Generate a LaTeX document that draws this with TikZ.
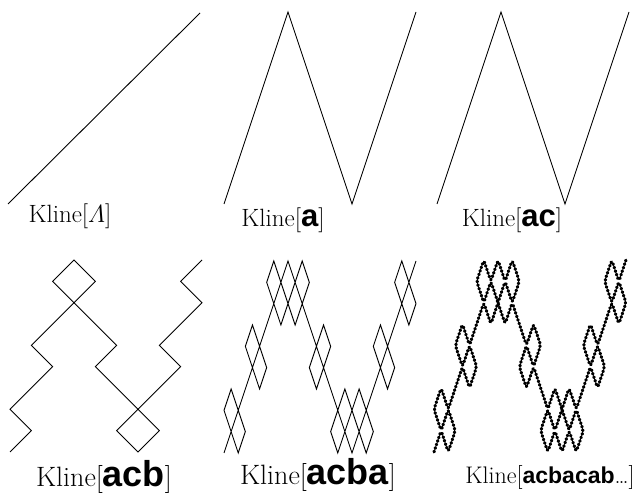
\documentclass[tikz,border=0pt]{standalone}
\usepackage{tikz}
\usepackage{amsmath}
\usepackage{fontspec}
\newfontfamily\wordfont{Liberation Sans}

\tikzset{
  kline/.style={line width=0.9pt},
  beads/.style={line width=3.1pt, line cap=round, line join=round,
    rounded corners=3pt, dash pattern=on 1pt off 2.7pt},
  klabel/.style={inner sep=0pt, anchor=base, font=\fontsize{25}{29}\selectfont},
  biglabel/.style={klabel, font=\fontsize{28}{32}\selectfont},
}
\newcommand{\wrd}[2][31]{{\wordfont\bfseries\fontsize{#1}{#1}\selectfont #2}}
% unit steps of Kline[acb]
\def\acbsteps{1/1,-1/1,1/1,1/1,-1/1,1/1,1/1,1/1,-1/1,
  -1/-1,1/-1,1/-1,1/-1,-1/-1,1/-1,1/-1,1/-1,-1/-1,
  -1/1,1/1,1/1,1/1,-1/1,1/1,1/1,-1/1,1/1}

\begin{document}
\begin{tikzpicture}[x=1pt,y=1pt]
  \useasboundingbox (0,0) rectangle (635,497);

  % top row
  \draw[kline] (8,293) -- ++(192,191);
  \draw[kline] (224,293) \foreach \s in {1,-1,1} { -- ++(64,192*\s) };
  \draw[kline] (437,293) \foreach \s in {1,-1,1} { -- ++(64,192*\s) };

  % bottom row
  \begin{scope}[shift={(10,45)}, x=21.333pt, y=21.333pt]
    \draw[kline] (0,0) \foreach \sx/\sy in \acbsteps { -- ++(\sx,\sy) };
  \end{scope}
  \begin{scope}[shift={(224,44)}, x=21.333pt, y=21.333pt]
    \draw[kline] (0,0) \foreach \sx/\sy in \acbsteps {
      -- ++({\sx/3},\sy) -- ++({\sx/3},{-(\sy)}) -- ++({\sx/3},\sy) };
  \end{scope}
  \begin{scope}[shift={(434,45)}, x=21.333pt, y=21.333pt]
    \draw[beads] (0,0) \foreach \sx/\sy in \acbsteps {
      -- ++({\sx/3},\sy) -- ++({\sx/3},{-(\sy)}) -- ++({\sx/3},\sy) };
  \end{scope}

  % labels
  \node[klabel] (lam)   at (70,274)  {Kline[$\varLambda$]};
  \node[klabel] (wa)    at (283,270) {Kline[\wrd{a}]};
  \node[klabel] (wac)   at (512,270) {Kline[\wrd{ac}]};
  \node[biglabel] (wacb)  at (104,10)  {Kline[\wrd[36]{acb}]};
  \node[biglabel] (wacba) at (318,12)  {Kline[\wrd[36]{acba}]};
  \node[klabel] (wlim)  at (550,13)
    {\fontsize{24}{28}\selectfont Kline[\wrd[23]{acbacab}\ldots]};
\end{tikzpicture}
\end{document}
